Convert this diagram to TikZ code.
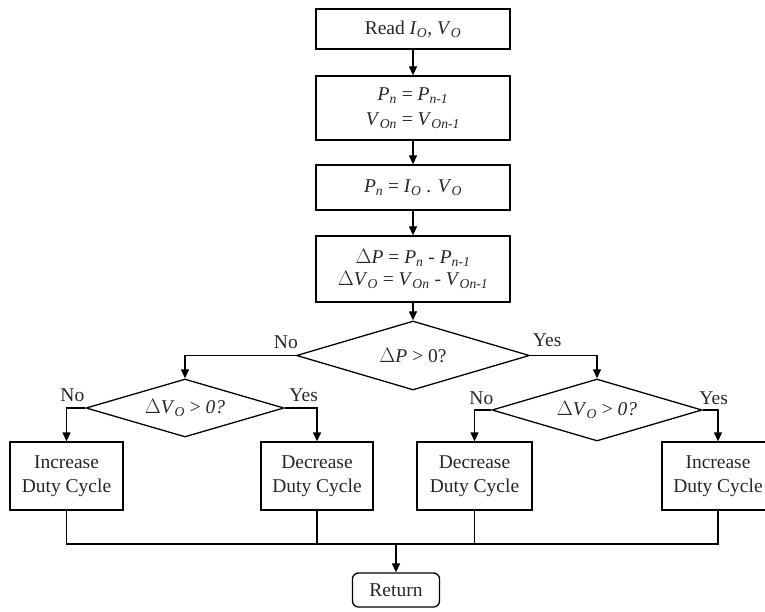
\documentclass[tikz,border=0pt]{standalone}
\usepackage{fontspec}
\setmainfont{Liberation Serif}
\usetikzlibrary{shapes.geometric,arrows.meta,calc}
\newcommand\sbi[1]{\textsubscript{\textit{#1}}}
\begin{document}
\begin{tikzpicture}[x=1pt,y=1pt,
  line width=1.3pt,
  every node/.style={font=\fontsize{19.5}{24}\selectfont, text=black!85},
  box/.style={draw, rectangle, align=center, inner sep=2pt},
  dia/.style={draw, diamond, aspect=3.4, inner sep=0pt},
  arr/.style={-{Triangle[length=9pt,width=8pt]}},
  lbl/.style={inner sep=0pt}]
\useasboundingbox (0,0) rectangle (765,-612);
\node[box, minimum width=194, minimum height=40] (read) at (413,-29) {Read \textit{I}\sbi{O}, \textit{V}\sbi{O}};
\node[box, minimum width=194, minimum height=64, font=\fontsize{19.5}{25}\selectfont] (b2) at (413,-108) {\textit{P}\sbi{n} = \textit{P}\sbi{n-1}\\ \textit{V}\sbi{On} = \textit{V}\sbi{On-1}};
\node[box, minimum width=194, minimum height=45] (b3) at (413,-187.5) {\textit{P}\sbi{n} = \textit{I}\sbi{O} . \textit{V}\sbi{O}};
\node[box, minimum width=194, minimum height=66, font=\fontsize{19.5}{22.5}\selectfont] (b4) at (413,-269) {$\Delta$\textit{P} = \textit{P}\sbi{n} - \textit{P}\sbi{n-1}\\ $\Delta$\textit{V}\sbi{O} = \textit{V}\sbi{On} - \textit{V}\sbi{On-1}};
\node[dia, minimum width=233, minimum height=69] (d1) at (413,-355.5) {$\Delta$\textit{P} > 0?};
\node[dia, minimum width=198, minimum height=58] (d2) at (185,-408) {$\Delta$\textit{V}\sbi{O} > \textit{0?}};
\node[dia, minimum width=210, minimum height=62] (d3) at (597,-410) {$\Delta$\textit{V}\sbi{O} > \textit{0?}};
\node[box, minimum width=113, minimum height=68] (l1) at (66.5,-476) {Increase\\Duty Cycle};
\node[box, minimum width=112, minimum height=68] (l2) at (317,-476) {Decrease\\Duty Cycle};
\node[box, minimum width=115, minimum height=68] (r1) at (474.5,-476) {Decrease\\Duty Cycle};
\node[box, minimum width=112, minimum height=68] (r2) at (718,-476) {Increase\\Duty Cycle};
\node[box, rounded corners=6pt, minimum width=87, minimum height=34] (ret) at (396,-590) {Return};
\coordinate (m) at (396,-544);
% labels
\node[lbl] (n1) at ($(d1.west)+(-10,13.5)$) {No};
\node[lbl] (y1) at ($(d1.east)+(17,15)$) {Yes};
\node[lbl] (n2) at ($(d2.west)+(-13,13)$) {No};
\node[lbl] (y2) at ($(d2.east)+(19,13)$) {Yes};
\node[lbl] (n3) at ($(d3.west)+(-10,12)$) {No};
\node[lbl] (y3) at ($(d3.east)+(11,12)$) {Yes};
% connectors
\draw[arr] (read) -- (b2);
\draw[arr] (b2) -- (b3);
\draw[arr] (b3) -- (b4);
\draw[arr] (b4) -- (d1);
\draw[arr] (d1.west) -| (d2.north);
\draw[arr] (d1.east) -| (d3.north);
\draw[arr] (d2.west) -| (l1.north);
\draw[arr] (d2.east) -| (l2.north);
\draw[arr] (d3.west) -| (r1.north);
\draw[arr] (d3.east) -| (r2.north);
\draw (l1.south) |- (m) -| (r2.south);
\draw (l2.south) -- (l2.south |- m);
\draw (r1.south) -- (r1.south |- m);
\draw[arr] (m) -- (ret.north);
\end{tikzpicture}
\end{document}
